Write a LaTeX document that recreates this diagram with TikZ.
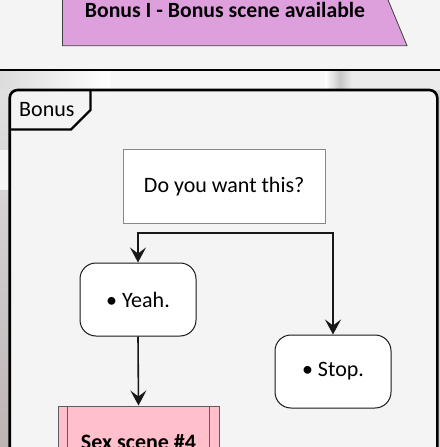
\documentclass[tikz,border=0pt]{standalone}
\usepackage{fontspec}
\setmainfont{Carlito}
\usetikzlibrary{arrows.meta}
\definecolor{pagebg}{HTML}{F4F4F4}
\definecolor{plum}{HTML}{DDA0DD}
\definecolor{pinkbox}{HTML}{FFC0CB}
\definecolor{ink}{HTML}{181818}
\definecolor{greyline}{HTML}{888888}
\definecolor{photoA}{HTML}{D4D2D2}
\definecolor{photoB}{HTML}{BDB4B4}
\begin{document}
\begin{tikzpicture}[x=1bp,y=-1bp,
  every node/.style={font=\fontsize{22bp}{26bp}\selectfont, text=black, inner sep=0pt},
  question/.style={draw=greyline, line width=1bp, fill=white, minimum width=201.7bp, minimum height=73.3bp},
  choice/.style={draw=ink, line width=1bp, fill=white, rounded corners=16bp, minimum width=116bp, minimum height=73bp},
  scene/.style={draw=ink!70, line width=1bp, fill=pinkbox, minimum width=161bp, minimum height=73bp, font=\fontsize{22bp}{26bp}\selectfont\bfseries},
  flow/.style={draw=ink, line width=1.6bp, -{Stealth[length=15bp, width=16bp, inset=6bp]}},
  frameline/.style={draw=black, line width=2.6bp}]
\useasboundingbox (0,0) rectangle (440,447);
\begin{scope}
\clip (0,0) rectangle (440,447);
% page background
\fill[pagebg] (0,0) rectangle (440,447);
% blurred photo behind the partition
\fill[photoA] (0,71) rectangle (440,447);
\shade[left color=photoA!80!white, right color=white] (0,71) rectangle (110,90);
\fill[white!97!black] (110,71) rectangle (325,90);
\shade[left color=white, right color=black!22] (325,71) rectangle (340,90);
\shade[left color=black!22, right color=black!8] (340,71) rectangle (352,90);
\fill[black!8] (352,71) rectangle (440,90);
\shade[top color=photoA!70!white, bottom color=photoB] (0,90) rectangle (10,447);
\fill[white!80!photoA] (0,150) rectangle (10,190);
% separator under the title band
\draw[black, line width=2bp] (0,70) -- (440,70);
% title band
\filldraw[fill=plum, draw=black!75, line width=0.8bp] (62.5,-2) -- (387.2,-2) -- (407,45.7) -- (62.5,45.7) -- cycle;
\node[anchor=base, font=\fontsize{21.7bp}{26bp}\selectfont\bfseries] (title) at (225,17.3) {Bonus I - Bonus scene available};
% partition frame
\filldraw[fill=pagebg, frameline, rounded corners=8bp] (9.7,90) rectangle (437.3,530);
\draw[black, line width=2.2bp] (90.5,90) -- (90.5,110) -- (71,129.5) -- (9.7,129.5);
\node[anchor=base west] (part) at (19,116.3) {Bonus};
% activity nodes
\node[question] (ask) at (224.2,186.4) {Do you want this?};
\node[choice] (yeah) at (138,299.5) {• Yeah.};
\node[choice] (stop) at (333,371.5) {• Stop.};
\node[scene] (sex) at (138.5,442.5) {Sex scene \#4};
\draw[ink!70, line width=1bp] ([xshift=10bp]sex.north west) -- ([xshift=10bp]sex.south west)
  ([xshift=-10bp]sex.north east) -- ([xshift=-10bp]sex.south east);
% connectors
\coordinate (split) at (224.2,233);
\draw[flow] (split) -| (yeah.north);
\draw[flow] (split) -| (stop.north);
\draw[flow] (yeah.south) -- (sex.north);
\end{scope}
\end{tikzpicture}
\end{document}
